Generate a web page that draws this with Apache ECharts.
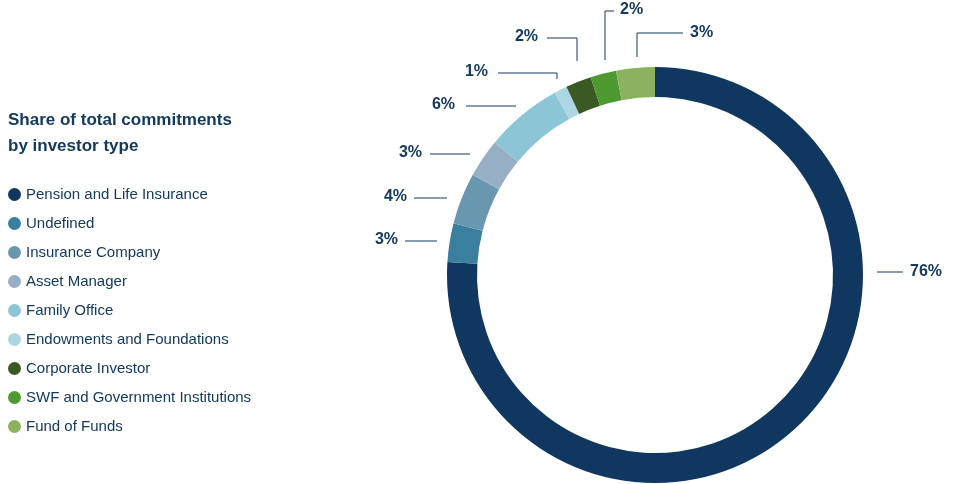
<!DOCTYPE html><html><head><meta charset="utf-8">
<script src="https://cdn.jsdelivr.net/npm/echarts@6/dist/echarts.min.js"></script>
<style>html,body{margin:0;background:#fff}#c{width:957px;height:484px}</style></head><body><div id="c"></div>
<script>
const categories=["Pension and Life Insurance","Undefined","Insurance Company","Asset Manager","Family Office","Endowments and Foundations","Corporate Investor","SWF and Government Institutions","Fund of Funds"];
const values=[76,3,4,3,6,1,2,2,3];
const colors=["#10375f","#3a7f9e","#6a97b0","#97afc4","#8cc6d6","#acd6e3","#3b5a23","#4f9a30","#8bb35f"];
// label placement: [textX, textY, align, line points]
const labelPlace=[
 [910,272,'left',[[877,272],[877,272],[903,272]]],
 [398,240,'right',[[437,241],[437,241],[405,241]]],
 [407,197,'right',[[447,198],[447,198],[414,198]]],
 [422,153,'right',[[470,154],[470,154],[430,154]]],
 [455,105,'right',[[516,106],[516,106],[466,106]]],
 [488,72,'right',[[557,79],[557,73],[498,73]]],
 [538,37,'right',[[577,61],[577,38],[547,38]]],
 [620,10,'left',[[605,60],[605,11],[614,11]]],
 [690,33,'left',[[637,57],[637,33],[683,33]]]
];
const chart=echarts.init(document.getElementById('c'));
chart.setOption({
 animation:false,
 title:{text:"Share of total commitments\nby investor type",left:3,top:102,textStyle:{fontFamily:"Liberation Sans",fontSize:17,fontWeight:"bold",color:"#143a60",lineHeight:26}},
 legend:{orient:"vertical",left:3,top:182,icon:"circle",itemWidth:13,itemHeight:13,itemGap:14,
   textStyle:{fontFamily:"Liberation Sans",fontSize:15,color:"#143a60"},data:categories},
 series:[{type:"pie",center:[655,275],radius:[178,208],startAngle:90,clockwise:true,
   data:categories.map((n,i)=>({name:n,value:values[i],itemStyle:{color:colors[i]}})),
   label:{formatter:"{c}%",fontFamily:"Liberation Sans",fontSize:16,fontWeight:"bold",color:"#143a60"},
   labelLine:{show:true,length:10,length2:30,lineStyle:{color:"#143a60",width:1}},
   labelLayout:p=>{const l=labelPlace[p.dataIndex];return {x:l[0],y:l[1],align:l[2],verticalAlign:'middle',labelLinePoints:l[3]};},
   emphasis:{disabled:true}}]
});
</script></body></html>
